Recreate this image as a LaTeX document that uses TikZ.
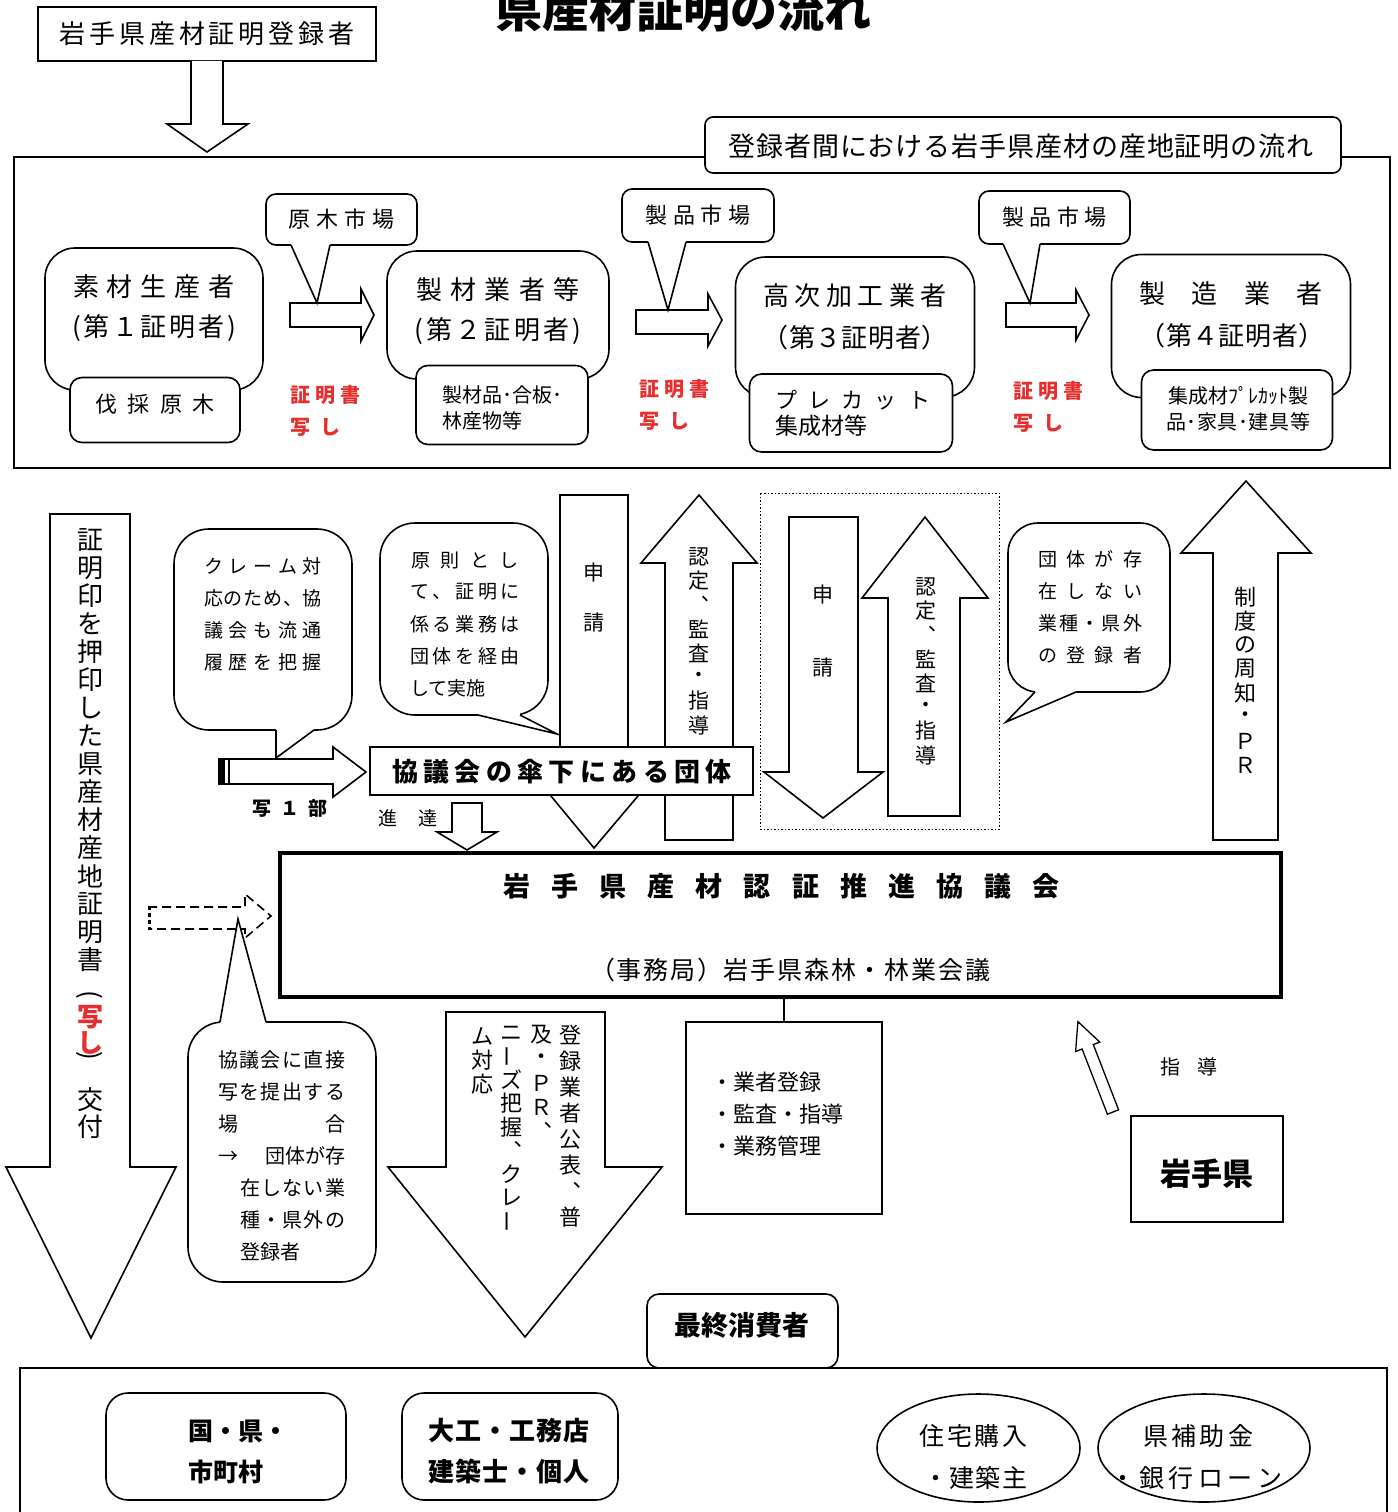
\documentclass[tikz,border=0pt]{standalone}
\usepackage{fontspec}
\setmainfont{Noto Sans CJK JP}
\usepackage{graphicx}
\usetikzlibrary{shapes.geometric}
\definecolor{certred}{RGB}{232,45,45}
\newcommand\fs[1]{\fontsize{#1}{#1}\selectfont}
\def\sprdEnd{}
\def\sprdA#1#2{#1\ifx#2\sprdEnd\else\hfill\expandafter\sprdA\expandafter#2\fi}
\newcommand\sprd[2]{\makebox[#1][s]{\sprdA#2\sprdEnd}}
\newcommand\vbar{\rotatebox[origin=c]{90}{ー}}
\newcommand\vcol[5]{\foreach \c [count=\i from 0] in {#5} {\node (#1\i) at (#2,{#3+\i*#4}) {\c};}}
\newcommand\ptr[6]{\fill[white] (#1,#6) -- (#1,#2) -- (#3,#4) -- (#5,#2) -- (#5,#6) -- cycle; \draw (#1,#2) -- (#3,#4) -- (#5,#2);}
\begin{document}
\begin{tikzpicture}[x=1pt,y=-1pt,line width=1.6pt,
  every node/.style={inner sep=0pt,outer sep=0pt},
  box/.style={draw,fill=white},
  rbox/.style={draw,fill=white,rounded corners=#1}]
\useasboundingbox (0,0) rectangle (1397,1512);

% title
\node[font=\fs{47}\bfseries] (title) at (683,10) {県産材証明の流れ};

% registrant
\node[box,minimum width=338pt,minimum height=54pt] (reg) at (207,34) {};
\node[font=\fs{26}] (regt) at (reg.center) {\sprd{295pt}{岩手県産材証明登録者}};
\draw[fill=white] (191,61) -- (191,124) -- (167,124) -- (207,152) -- (248,124) -- (223,124) -- (223,61);

% frame
\draw (14,157) rectangle (1390,468);
\node[rbox=8pt,minimum width=636pt,minimum height=56pt] (flow) at (1023,145) {};
\node[font=\fs{27}] (flowt) at (1021,146) {\sprd{585pt}{登録者間における岩手県産材の産地証明の流れ}};

% producers
\node[rbox=30pt,minimum width=218pt,minimum height=142pt] (p1) at (154,319) {};
\node[font=\fs{26}] (p1a) at (154,287) {\sprd{162pt}{素材生産者}};
\node[font=\fs{26}] (p1b) at (154,328) {\sprd{164pt}{(第１証明者)}};
\node[rbox=12pt,minimum width=170pt,minimum height=65pt] (s1) at (155,410) {};
\node[font=\fs{22}] (s1t) at (155,404) {\sprd{120pt}{伐採原木}};

\node[rbox=30pt,minimum width=222pt,minimum height=128pt] (p2) at (498,315) {};
\node[font=\fs{26}] (p2a) at (498,290) {\sprd{164pt}{製材業者等}};
\node[font=\fs{26}] (p2b) at (498,331) {\sprd{167pt}{(第２証明者)}};
\node[rbox=12pt,minimum width=172pt,minimum height=79pt] (s2) at (502,405) {};
\node[font=\fs{20},anchor=west] (s2a) at (442,395) {製材品･合板･};
\node[font=\fs{20},anchor=west] (s2b) at (442,421) {林産物等};

\node[rbox=30pt,minimum width=239pt,minimum height=140pt] (p3) at (855,327) {};
\node[font=\fs{26}] (p3a) at (855,296) {\sprd{184pt}{高次加工業者}};
\node[font=\fs{26}] (p3b) at (855,338) {\sprd{185pt}{（第３証明者）}};
\node[rbox=12pt,minimum width=203pt,minimum height=78pt] (s3) at (851,413) {};
\node[font=\fs{22},anchor=west] (s3a) at (775,400) {\sprd{155pt}{プレカット}};
\node[font=\fs{23},anchor=west] (s3b) at (775,426) {集成材等};

\node[rbox=30pt,minimum width=239pt,minimum height=143pt] (p4) at (1231,326) {};
\node[font=\fs{26}] (p4a) at (1231,294) {\sprd{183pt}{製造業者}};
\node[font=\fs{26}] (p4b) at (1232,336) {\sprd{185pt}{（第４証明者）}};
\node[rbox=12pt,minimum width=191pt,minimum height=80pt] (s4) at (1237,410) {};
\node[font=\fs{20}] (s4a) at (1238,396) {集成材ﾌﾟﾚｶｯﾄ製};
\node[font=\fs{20}] (s4b) at (1238,422) {\sprd{144pt}{品･家具･建具等}};

% flow arrows
\draw[fill=white] (290,303) -- (361,303) -- (361,289) -- (374,315) -- (361,341) -- (361,327) -- (290,327) -- cycle;
\draw[fill=white] (636,310) -- (708,310) -- (708,294) -- (722,320) -- (708,346) -- (708,334) -- (636,334) -- cycle;
\draw[fill=white] (1006,303) -- (1076,303) -- (1076,290) -- (1089,315) -- (1076,340) -- (1076,327) -- (1006,327) -- cycle;

% markets
\node[rbox=10pt,minimum width=151pt,minimum height=51pt] (m1) at (341.5,219.5) {};
\node[font=\fs{22}] (m1t) at (m1.center) {\sprd{106pt}{原木市場}};
\ptr{291}{245}{317}{303}{330}{241}
\node[rbox=10pt,minimum width=152pt,minimum height=53pt] (m2) at (698,215.5) {};
\node[font=\fs{22}] (m2t) at (m2.center) {\sprd{105pt}{製品市場}};
\ptr{648}{242}{668}{310}{686}{238}
\node[rbox=10pt,minimum width=151pt,minimum height=53pt] (m3) at (1054.5,217.5) {};
\node[font=\fs{22}] (m3t) at (m3.center) {\sprd{105pt}{製品市場}};
\ptr{1003}{244}{1030}{303}{1040}{240}

% red labels
\begin{scope}[font=\fs{20}\bfseries,text=certred]
\node[anchor=west] (c1a) at (290,395) {\sprd{70pt}{証明書}};
\node[anchor=west] (c1b) at (290,427) {\sprd{50pt}{写し}};
\node[anchor=west] (c2a) at (639,389) {\sprd{70pt}{証明書}};
\node[anchor=west] (c2b) at (639,421) {\sprd{50pt}{写し}};
\node[anchor=west] (c3a) at (1013,391) {\sprd{70pt}{証明書}};
\node[anchor=west] (c3b) at (1013,423) {\sprd{50pt}{写し}};
\end{scope}

% left big arrow
\draw[fill=white] (50,514) -- (130,514) -- (130,1167) -- (176,1167) -- (91,1338) -- (6,1167) -- (50,1167) -- cycle;
\begin{scope}[font=\fs{26}]
\vcol{lv}{90}{540}{28}{証,明,印,を,押,印,し,た,県,産,材,産,地,証,明,書}
\node (lp1) at (90,997) {\rotatebox[origin=c]{-90}{(}};
\node[text=certred,font=\fs{26}\bfseries] (lr1) at (90,1017) {写};
\node[text=certred,font=\fs{26}\bfseries] (lr2) at (90,1043) {し};
\node (lp2) at (90,1058) {\rotatebox[origin=c]{-90}{)}};
\node (lk1) at (90,1100) {交};
\node (lk2) at (90,1127) {付};
\end{scope}

% claim callout
\node[rbox=35pt,minimum width=178pt,minimum height=201pt] (cl) at (263,629.5) {};
\ptr{276}{730}{276}{758}{314}{726}
\begin{scope}[font=\fs{19}]
\node (cl1) at (263,566) {\sprd{118pt}{クレーム対}};
\node (cl2) at (263,598) {\sprd{118pt}{応のため、協}};
\node (cl3) at (263,630) {\sprd{118pt}{議会も流通}};
\node (cl4) at (263,662) {\sprd{118pt}{履歴を把握}};
\end{scope}

% copy arrow
\draw[fill=white] (219,759) -- (333,759) -- (333,747) -- (366,772) -- (333,797) -- (333,784) -- (219,784) -- cycle;
\fill (219,759) rectangle (225,784);
\draw[line width=1.2pt] (229,759) -- (229,784);
\node[font=\fs{19}\bfseries] (cp) at (290,808) {\sprd{75pt}{写１部}};

% principle callout
\node[rbox=35pt,minimum width=168pt,minimum height=192pt] (gen) at (464,619) {};
\ptr{478}{715}{557}{734}{520}{711}
\begin{scope}[font=\fs{19}]
\node (gen1) at (465,560) {\sprd{107pt}{原則とし}};
\node (gen2) at (465,592) {\sprd{110pt}{て、証明に}};
\node (gen3) at (465,624) {\sprd{110pt}{係る業務は}};
\node (gen4) at (465,656) {\sprd{110pt}{団体を経由}};
\node[anchor=west] (gen5) at (410,688) {して実施};
\end{scope}

% apply / certify arrows (left pair)
\draw[fill=white] (560,495) -- (628,495) -- (628,790) -- (643,790) -- (594,848) -- (546,790) -- (560,790) -- cycle;
\draw[fill=white] (665,840) -- (665,563) -- (641,563) -- (699,495) -- (757,563) -- (733,563) -- (733,840) -- cycle;
\begin{scope}[font=\fs{21}]
\node (sa1) at (594,573) {申};
\node (sa2) at (594,622) {請};
\vcol{na}{699}{557}{24}{認,定,︑,監,査,・,指,導}
\end{scope}

% group box
\node[box,minimum width=383pt,minimum height=48pt] (grp) at (561.5,771) {};
\node[font=\fs{26}\bfseries] (grpt) at (562,772) {\sprd{340pt}{協議会の傘下にある団体}};

% shintatsu
\node[font=\fs{19}] (sd) at (407.5,818) {\sprd{59pt}{進達}};
\draw[fill=white] (452,803) -- (482,803) -- (482,832) -- (497,832) -- (467,850) -- (437,832) -- (452,832) -- cycle;

% dotted group
\draw[line width=1pt,dash pattern=on 1.5pt off 2pt] (760,493) rectangle (999,829);
\draw[fill=white] (789,517) -- (858,517) -- (858,772) -- (883,772) -- (823,818) -- (764,772) -- (789,772) -- cycle;
\draw[fill=white] (888,816) -- (888,598) -- (862,598) -- (925,517) -- (988,598) -- (960,598) -- (960,816) -- cycle;
\begin{scope}[font=\fs{21}]
\node (sb1) at (823,595) {申};
\node (sb2) at (823,667) {請};
\vcol{nb}{926}{587}{24}{認,定,︑,監,査,・,指,導}
\end{scope}

% no-group callout
\node[rbox=30pt,minimum width=162pt,minimum height=169pt] (no) at (1089,607.5) {};
\ptr{1035}{692}{1006}{722}{1076}{688}
\begin{scope}[font=\fs{19}]
\node (no1) at (1090,559) {\sprd{104pt}{団体が存}};
\node (no2) at (1090,591) {\sprd{104pt}{在しない}};
\node (no3) at (1090,623) {\sprd{104pt}{業種・県外}};
\node (no4) at (1090,655) {\sprd{104pt}{の登録者}};
\end{scope}

% PR arrow
\draw[fill=white] (1213,840) -- (1213,553) -- (1181,553) -- (1246,481) -- (1311,553) -- (1278,553) -- (1278,840) -- cycle;
\begin{scope}[font=\fs{22}]
\vcol{pv}{1245}{597}{24}{制,度,の,周,知,・,Ｐ,Ｒ}
\end{scope}

% council
\node[draw,line width=4pt,fill=white,minimum width=1001pt,minimum height=144pt] (cn) at (780.5,925) {};
\node[font=\fs{27}\bfseries] (cnt) at (781.5,886) {\sprd{557pt}{岩手県産材認証推進協議会}};
\node[font=\fs{25}] (cns) at (790,970) {\sprd{400pt}{（事務局）岩手県森林・林業会議}};

% direct callout
\node[rbox=35pt,minimum width=188pt,minimum height=260pt] (dc) at (282,1152) {};
\ptr{220}{1022}{238}{919}{266}{1026}
\begin{scope}[font=\fs{20}]
\node (dc1) at (281.5,1060) {\sprd{127pt}{協議会に直接}};
\node (dc2) at (281.5,1092) {\sprd{127pt}{写を提出する}};
\node (dc3) at (281.5,1124) {\sprd{127pt}{場合}};
\node (dc4) at (281.5,1156) {\makebox[127pt][s]{→\hfill 団体が存}};
\node (dc5) at (292.5,1188) {\sprd{105pt}{在しない業}};
\node (dc6) at (292.5,1220) {\sprd{105pt}{種・県外の}};
\node[anchor=west] (dc7) at (240,1252) {登録者};
\end{scope}

% dashed arrow
\draw[dash pattern=on 9pt off 5pt] (148,907) -- (245,907) -- (245,894) -- (271,916) -- (245,938) -- (245,929) -- (148,929);
\draw[line width=3pt,dash pattern=on 4pt off 3pt] (149,906) -- (149,930);

% publication arrow
\draw[fill=white] (446,1012) -- (605,1012) -- (605,1167) -- (662,1167) -- (525,1337) -- (388,1167) -- (446,1167) -- cycle;
\begin{scope}[font=\fs{22}]
\vcol{ka}{570}{1035}{26}{登,録,業,者,公,表,︑,普}
\vcol{kb}{541}{1035}{24}{及,・,Ｐ,Ｒ,︑}
\vcol{kc}{511}{1033}{23.5}{ニ,\vbar,ズ,把,握,︑,ク,レ,\vbar}
\vcol{kd}{482}{1036}{24}{ム,対,応}
\end{scope}

% admin box
\node[box,minimum width=196pt,minimum height=192pt] (adm) at (784,1118) {};
\draw (cn.south -| adm.north) -- (adm.north);
\begin{scope}[font=\fs{22}]
\node[anchor=west] (ad1) at (711,1082) {・業者登録};
\node[anchor=west] (ad2) at (711,1114) {・監査・指導};
\node[anchor=west] (ad3) at (711,1146) {・業務管理};
\end{scope}

% prefecture
\draw[fill=white,line width=1.3pt] (1107.4,1114.2) -- (1082.1,1049) -- (1075.6,1051.5) -- (1077.9,1021.6) -- (1099.8,1042.1) -- (1093.3,1044.6) -- (1118.6,1109.8) -- cycle;
\node[font=\fs{20}] (sd2) at (1188.5,1067) {\sprd{57pt}{指導}};
\node[box,line width=2.4pt,minimum width=152pt,minimum height=106pt] (iw) at (1207,1169) {};
\node[font=\fs{31}\bfseries] (iwt) at (1207,1174) {岩手県};

% final consumers
\node[rbox=12pt,minimum width=191pt,minimum height=74pt] (fc) at (742.5,1331) {};
\node[font=\fs{27}\bfseries] (fct) at (742,1325) {最終消費者};
\draw (20,1520) -- (20,1368) -- (1387,1368) -- (1387,1520);

\node[rbox=22pt,minimum width=240pt,minimum height=107pt] (gov) at (226,1446.5) {};
\node[font=\fs{25}\bfseries,anchor=west] (gov1) at (188,1431) {国・県・};
\node[font=\fs{25}\bfseries,anchor=west] (gov2) at (188,1472) {市町村};
\node[rbox=22pt,minimum width=216pt,minimum height=107pt] (bld) at (510,1446.5) {};
\node[font=\fs{26}\bfseries] (bld1) at (509,1431) {\sprd{162pt}{大工・工務店}};
\node[font=\fs{26}\bfseries] (bld2) at (509,1472) {\sprd{162pt}{建築士・個人}};

\node[draw,ellipse,minimum width=203pt,minimum height=108pt] (e1) at (978.5,1448) {};
\node[font=\fs{25}] (e1a) at (973.5,1436) {\sprd{108pt}{住宅購入}};
\node[font=\fs{25}] (e1b) at (975,1478) {\sprd{104pt}{・建築主}};
\node[draw,ellipse,minimum width=212pt,minimum height=108pt] (e2) at (1204,1448) {};
\node[font=\fs{25}] (e2a) at (1198,1436) {\sprd{110pt}{県補助金}};
\node[font=\fs{25}] (e2b) at (1196,1478) {\sprd{172pt}{・銀行ローン}};
\end{tikzpicture}
\end{document}
